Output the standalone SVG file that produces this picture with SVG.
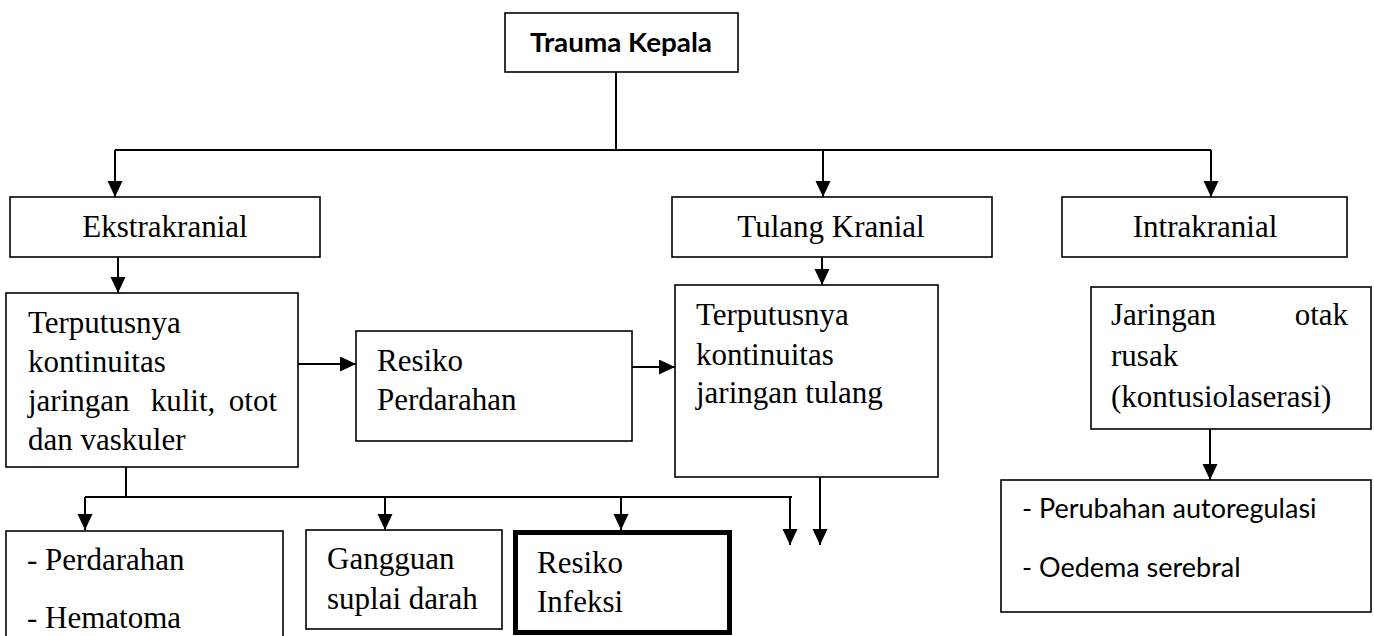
<svg xmlns="http://www.w3.org/2000/svg" width="1374" height="636" viewBox="0 0 1374 636">
  <style>
    .box { fill: #fff; stroke: #000; stroke-width: 1.6; }
    .thick { fill: #fff; stroke: #000; stroke-width: 5; }
    .serif { font-family: "Liberation Serif", "Times New Roman", serif; font-size: 31px; fill: #000; }
    .sans { font-family: Lato, "Open Sans", "Liberation Sans", sans-serif; font-size: 27px; fill: #000; }
    .title { font-family: Lato, "Open Sans", "Liberation Sans", sans-serif; font-size: 27px; font-weight: bold; fill: #000; }
    .link { fill: none; stroke: #000; stroke-width: 2; }
  </style>
  <defs>
    <marker id="arrow" markerUnits="userSpaceOnUse" markerWidth="17" markerHeight="16" refX="16" refY="7.5" orient="auto">
      <path d="M0,0 L16,7.5 L0,15 z" fill="#000"/>
    </marker>
  </defs>

  <!-- connectors -->
  <g id="connectors">
    <path class="link" d="M616,72 V150"/>
    <path class="link" d="M115,150 H1211"/>
    <path class="link" d="M115,150 V197" marker-end="url(#arrow)"/>
    <path class="link" d="M823,150 V197" marker-end="url(#arrow)"/>
    <path class="link" d="M1211,150 V197" marker-end="url(#arrow)"/>
    <path class="link" d="M118,257 V293" marker-end="url(#arrow)"/>
    <path class="link" d="M822,257 V285" marker-end="url(#arrow)"/>
    <path class="link" d="M298,364 H356" marker-end="url(#arrow)"/>
    <path class="link" d="M632,367 H675" marker-end="url(#arrow)"/>
    <path class="link" d="M1210,429 V480" marker-end="url(#arrow)"/>
    <path class="link" d="M126,467 V497"/>
    <path class="link" d="M85,497 H792"/>
    <path class="link" d="M85,497 V530" marker-end="url(#arrow)"/>
    <path class="link" d="M385,497 V530" marker-end="url(#arrow)"/>
    <path class="link" d="M621,497 V530" marker-end="url(#arrow)"/>
    <path class="link" d="M790,497 V545" marker-end="url(#arrow)"/>
    <path class="link" d="M820,475 V545" marker-end="url(#arrow)"/>
  </g>

  <g id="trauma-kepala">
    <rect class="box" x="505" y="13" width="233" height="59"/>
    <text class="title" x="530" y="52" textLength="182" lengthAdjust="spacingAndGlyphs">Trauma Kepala</text>
  </g>

  <g id="ekstrakranial">
    <rect class="box" x="10" y="197" width="310" height="60"/>
    <text class="serif" x="165" y="237" text-anchor="middle">Ekstrakranial</text>
  </g>

  <g id="tulang-kranial">
    <rect class="box" x="672" y="197" width="320" height="60"/>
    <text class="serif" x="831" y="237" text-anchor="middle">Tulang Kranial</text>
  </g>

  <g id="intrakranial">
    <rect class="box" x="1062" y="197" width="285" height="60"/>
    <text class="serif" x="1205" y="237" text-anchor="middle">Intrakranial</text>
  </g>

  <g id="terputusnya-kulit">
    <rect class="box" x="6" y="293" width="292" height="174"/>
    <text class="serif" x="28" y="333">Terputusnya</text>
    <text class="serif" x="28" y="372">kontinuitas</text>
    <text class="serif" x="28" y="411">jaringan</text>
    <text class="serif" x="183" y="411" text-anchor="middle">kulit,</text>
    <text class="serif" x="277" y="411" text-anchor="end">otot</text>
    <text class="serif" x="28" y="450">dan vaskuler</text>
  </g>

  <g id="resiko-perdarahan">
    <rect class="box" x="356" y="331" width="276" height="110"/>
    <text class="serif" x="377" y="371">Resiko</text>
    <text class="serif" x="377" y="410">Perdarahan</text>
  </g>

  <g id="terputusnya-tulang">
    <rect class="box" x="675" y="285" width="263" height="192"/>
    <text class="serif" x="696" y="325">Terputusnya</text>
    <text class="serif" x="696" y="365">kontinuitas</text>
    <text class="serif" x="696" y="403">jaringan tulang</text>
  </g>

  <g id="jaringan-otak">
    <rect class="box" x="1091" y="287" width="280" height="142"/>
    <text class="serif" x="1111" y="325">Jaringan</text>
    <text class="serif" x="1348" y="325" text-anchor="end">otak</text>
    <text class="serif" x="1111" y="366">rusak</text>
    <text class="serif" x="1111" y="407">(kontusiolaserasi)</text>
  </g>

  <g id="perubahan">
    <rect class="box" x="1001" y="480" width="370" height="132"/>
    <text class="sans" x="1022" y="518">- Perubahan autoregulasi</text>
    <text class="sans" x="1022" y="577">- Oedema serebral</text>
  </g>

  <g id="perdarahan-hematoma">
    <rect class="box" x="6" y="531" width="277" height="120"/>
    <text class="serif" x="27" y="570">- Perdarahan</text>
    <text class="serif" x="27" y="628">- Hematoma</text>
  </g>

  <g id="gangguan-suplai">
    <rect class="box" x="306" y="530" width="196" height="99"/>
    <text class="serif" x="327" y="569">Gangguan</text>
    <text class="serif" x="327" y="609">suplai darah</text>
  </g>

  <g id="resiko-infeksi">
    <rect class="thick" x="515.5" y="532.5" width="214" height="100"/>
    <text class="serif" x="537" y="573">Resiko</text>
    <text class="serif" x="537" y="612">Infeksi</text>
  </g>
</svg>
